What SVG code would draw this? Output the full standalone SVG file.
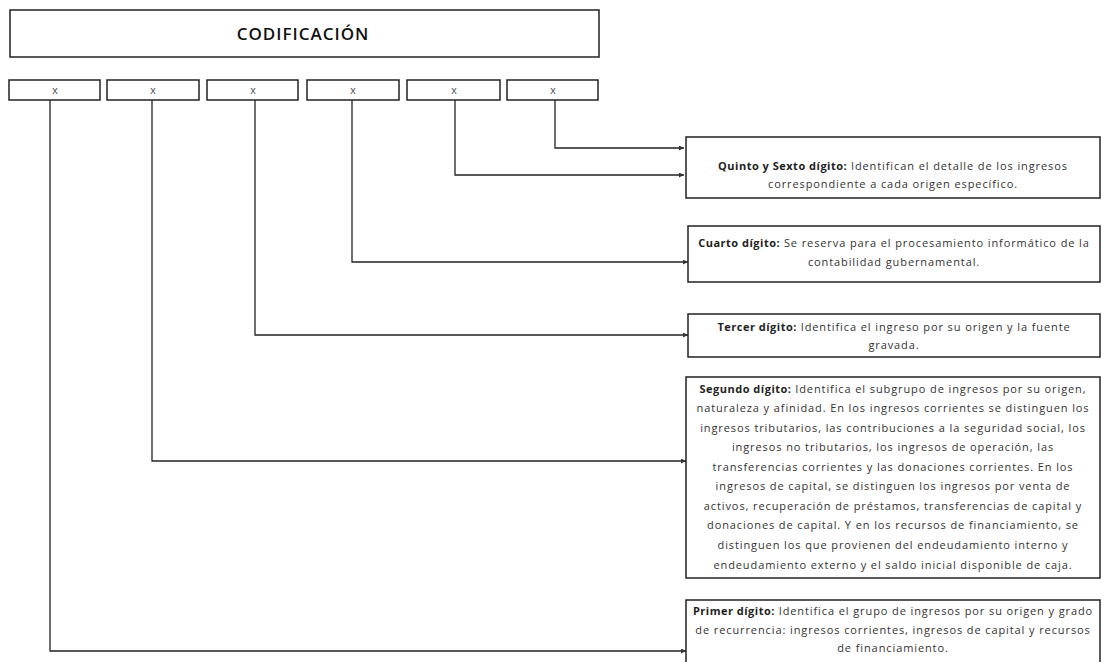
<svg xmlns="http://www.w3.org/2000/svg" width="1104" height="662" viewBox="0 0 1104 662">
<style>
.box{fill:#fff;stroke:#222;stroke-width:1.5}
.t{font-family:"Open Sans","Liberation Sans",sans-serif;font-size:11px;letter-spacing:0.9px;fill:#333;text-anchor:middle}
.b{font-weight:bold;fill:#222;letter-spacing:0.5px}
.x{font-family:"Liberation Sans",sans-serif;font-size:11px;fill:#555;text-anchor:middle}
.title{font-family:"Open Sans","Liberation Sans",sans-serif;font-size:17px;letter-spacing:1px;fill:#111;text-anchor:middle;font-weight:600}
.c{fill:none;stroke:#222;stroke-width:1.3}
</style>
<defs>
<marker id="ah" viewBox="0 0 6 6" refX="6" refY="3" markerWidth="5" markerHeight="5" orient="auto" markerUnits="userSpaceOnUse">
<path d="M0,0 L6,3 L0,6 z" fill="#333"/>
</marker>
</defs>
<rect width="1104" height="662" fill="#fff"/>
<g id="codificacion">
<rect class="box" x="10" y="10" width="589" height="47"/>
<text class="title" x="303" y="40">CODIFICACIÓN</text>
</g>
<g id="d1"><rect class="box" x="9" y="80" width="91" height="20"/><text class="x" x="55" y="94">x</text></g>
<g id="d2"><rect class="box" x="107" y="80" width="92" height="20"/><text class="x" x="153" y="94">x</text></g>
<g id="d3"><rect class="box" x="207" y="80" width="91" height="20"/><text class="x" x="253" y="94">x</text></g>
<g id="d4"><rect class="box" x="307" y="80" width="92" height="20"/><text class="x" x="353" y="94">x</text></g>
<g id="d5"><rect class="box" x="407" y="80" width="93" height="20"/><text class="x" x="454" y="94">x</text></g>
<g id="d6"><rect class="box" x="507" y="80" width="91" height="20"/><text class="x" x="553" y="94">x</text></g>
<g id="connectors">
<path class="c" d="M555,100 V148 H684" marker-end="url(#ah)"/>
<path class="c" d="M455,100 V175 H684" marker-end="url(#ah)"/>
<path class="c" d="M352,100 V262 H688" marker-end="url(#ah)"/>
<path class="c" d="M255,100 V335 H688" marker-end="url(#ah)"/>
<path class="c" d="M152,100 V461 H686" marker-end="url(#ah)"/>
<path class="c" d="M50,100 V651 H686" marker-end="url(#ah)"/>
</g>
<g id="quinto">
<rect class="box" x="686" y="137" width="414" height="61"/>
<text class="t" x="893" y="170"><tspan class="b">Quinto y Sexto dígito:</tspan> Identifican el detalle de los ingresos</text>
<text class="t" x="893" y="188">correspondiente a cada origen específico.</text>
</g>
<g id="cuarto">
<rect class="box" x="688" y="226" width="412" height="56"/>
<text class="t" x="894" y="247"><tspan class="b">Cuarto dígito:</tspan> Se reserva para el procesamiento informático de la</text>
<text class="t" x="894" y="266">contabilidad gubernamental.</text>
</g>
<g id="tercer">
<rect class="box" x="688" y="314" width="412" height="43"/>
<text class="t" x="894" y="331"><tspan class="b">Tercer dígito:</tspan> Identifica el ingreso por su origen y la fuente</text>
<text class="t" x="894" y="349">gravada.</text>
</g>
<g id="segundo">
<rect class="box" x="686" y="377" width="414" height="201"/>
<text class="t" x="893" y="393"><tspan class="b">Segundo dígito:</tspan> Identifica el subgrupo de ingresos por su origen,</text>
<text class="t" x="893" y="412">naturaleza y afinidad. En los ingresos corrientes se distinguen los</text>
<text class="t" x="893" y="432">ingresos tributarios, las contribuciones a la seguridad social, los</text>
<text class="t" x="893" y="451">ingresos no tributarios, los ingresos de operación, las</text>
<text class="t" x="893" y="471">transferencias corrientes y las donaciones corrientes. En los</text>
<text class="t" x="893" y="490">ingresos de capital, se distinguen los ingresos por venta de</text>
<text class="t" x="893" y="510">activos, recuperación de préstamos, transferencias de capital y</text>
<text class="t" x="893" y="529">donaciones de capital. Y en los recursos de financiamiento, se</text>
<text class="t" x="893" y="549">distinguen los que provienen del endeudamiento interno y</text>
<text class="t" x="893" y="569">endeudamiento externo y el saldo inicial disponible de caja.</text>
</g>
<g id="primer">
<rect class="box" x="686" y="600" width="414" height="70"/>
<text class="t" x="893" y="615"><tspan class="b">Primer dígito:</tspan> Identifica el grupo de ingresos por su origen y grado</text>
<text class="t" x="893" y="634">de recurrencia: ingresos corrientes, ingresos de capital y recursos</text>
<text class="t" x="893" y="652">de financiamiento.</text>
</g>
</svg>
